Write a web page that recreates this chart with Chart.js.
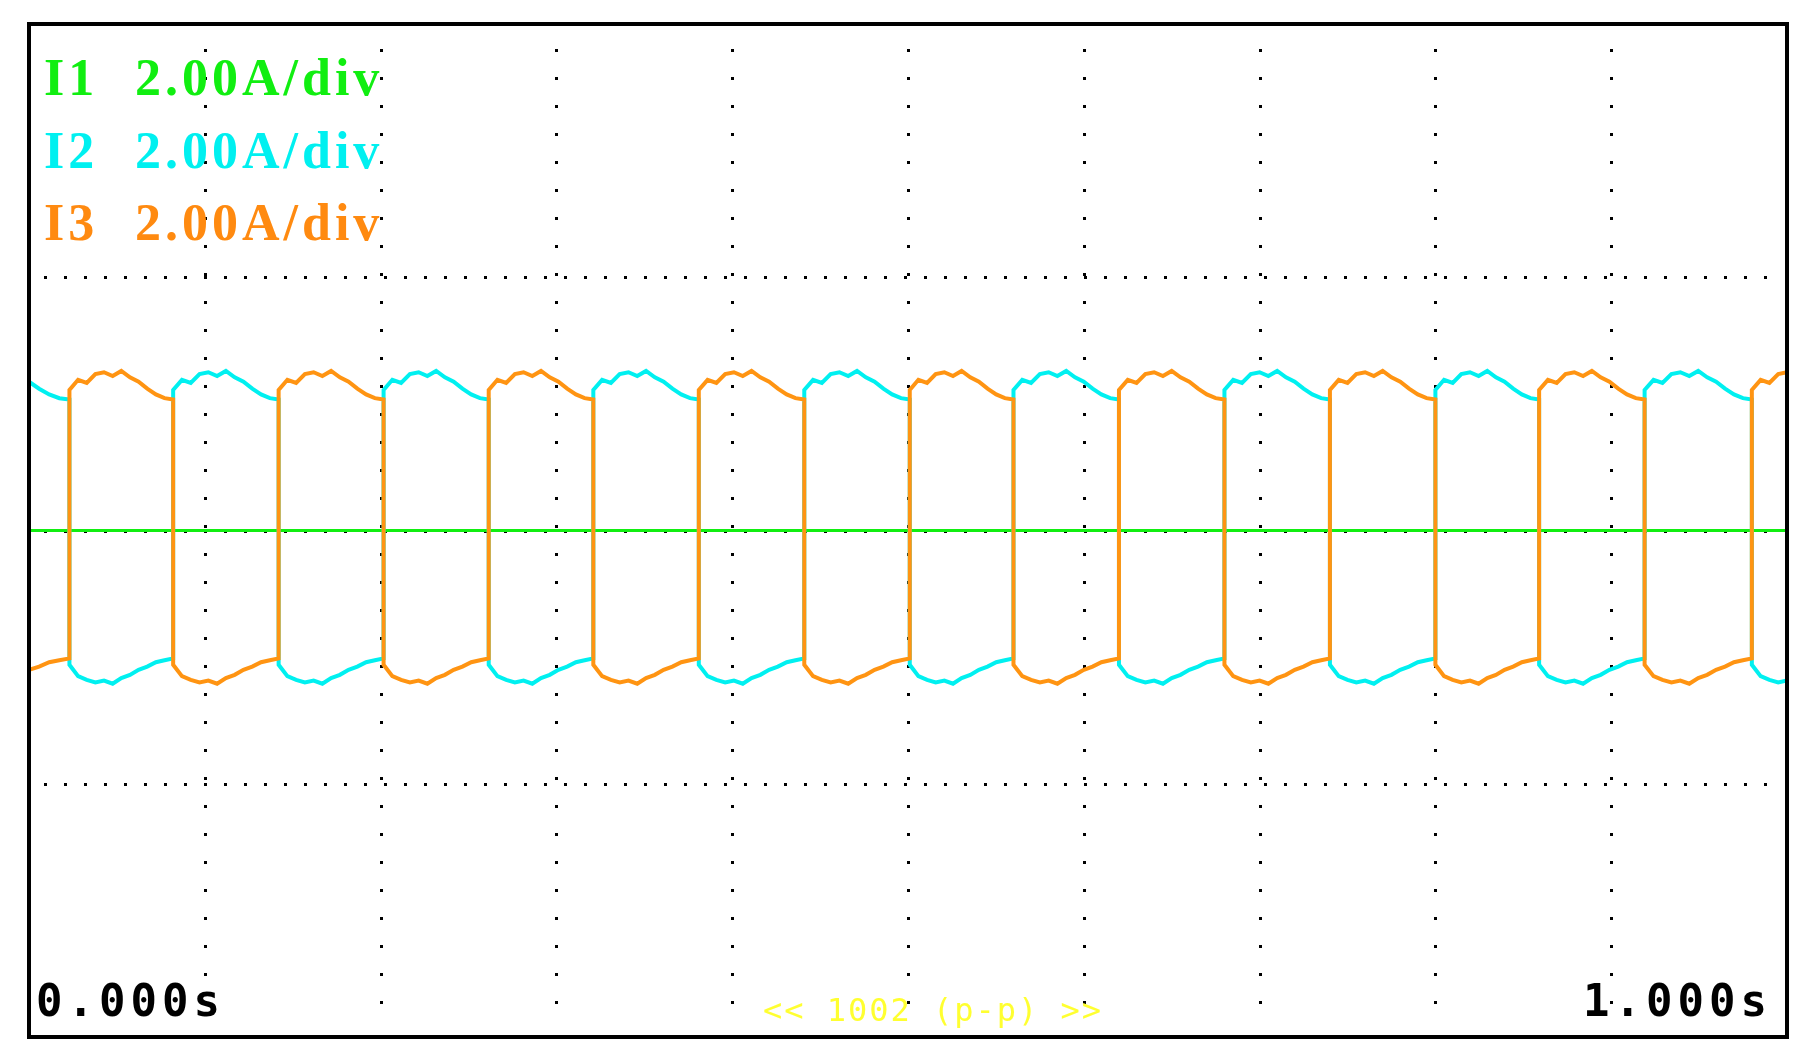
<!DOCTYPE html>
<html>
<head>
<meta charset="utf-8">
<script src="https://cdn.jsdelivr.net/npm/chart.js@4.4.0/dist/chart.umd.min.js"></script>
<style>
  html, body { margin: 0; padding: 0; background: #fff; }
  #wrap { width: 1809px; height: 1062px; position: relative; }
</style>
</head>
<body>
<div id="wrap"><canvas id="scope"></canvas></div>
<script>
// Scope capture: three phase currents, 2.00 A/div, 0..1 s

// switching instants (s)
const switchTimes = [0, 0.023, 0.082, 0.142, 0.2017, 0.2615, 0.321, 0.381, 0.441, 0.501,
                     0.560, 0.620, 0.680, 0.740, 0.800, 0.859, 0.919, 0.980, 1.0];
// which trace sits on the positive level per segment: 'c' = I2, 'o' = I3
const topTrace = ['c','o','c','o','c','o','c','o','c','o','c','o','c','o','c','o','c','o'];
// ripple of the positive level across one segment (A)
const topRipple = [2.22, 2.38, 2.33, 2.47, 2.50, 2.44, 2.52, 2.42, 2.35, 2.24, 2.15, 2.09, 2.07];
// ripple of the negative level across one segment (A)
const botRipple = [-2.12, -2.30, -2.36, -2.40, -2.37, -2.42, -2.33, -2.28, -2.20, -2.15, -2.08, -2.05, -2.02];
// I1 stays at zero
const i1Values = [[0, 0], [1, 0]];

const xTicks = [0, 0.1, 0.2, 0.3, 0.4, 0.5, 0.6, 0.7, 0.8, 0.9, 1.0];
const yTicks = [-8, -4, 0, 4, 8];

function buildTrace(name){
  const pts = [];
  for(let s = 0; s < topTrace.length; s++){
    const t0 = switchTimes[s], t1 = switchTimes[s + 1];
    const prof = topTrace[s] === name ? topRipple : botRipple;
    // first and last segments are clipped, show only the matching part of the ripple
    let from = 0, to = prof.length - 1;
    if(s === 0) from = 8;
    if(s === topTrace.length - 1) to = 4;
    const n = to - from;
    for(let k = from; k <= to; k++){
      pts.push({x: t0 + (t1 - t0) * (k - from) / n, y: prof[k]});
    }
  }
  return pts;
}

const gridPlugin = {
  id: 'scopeGrid',
  beforeDatasetsDraw(chart){
    const {ctx, chartArea: a, scales: {x, y}} = chart;
    ctx.save();
    ctx.fillStyle = '#000';
    // vertical dotted divisions
    xTicks.slice(1, -1).forEach(v => {
      const px = Math.round(x.getPixelForValue(v));
      for(let py = a.top + 25; py < a.bottom - 10; py += 28) ctx.fillRect(px - 1, py, 3, 3);
    });
    // horizontal dotted lines
    yTicks.slice(1, -1).forEach(v => {
      const py = Math.round(y.getPixelForValue(v));
      for(let px = a.left + 15; px < a.right - 10; px += 20) ctx.fillRect(px, py - 1, 3, 3);
    });
    ctx.restore();
  },
  afterDraw(chart){
    const {ctx, chartArea: a} = chart;
    ctx.save();
    ctx.strokeStyle = '#000';
    ctx.lineWidth = 4;
    ctx.strokeRect(a.left, a.top, a.right - a.left, a.bottom - a.top);

    ctx.textBaseline = 'alphabetic';
    ctx.font = 'bold 52px "Liberation Serif", "DejaVu Serif", serif';
    ctx.letterSpacing = '4px';
    const labels = [['I1', '#11ee11', 95], ['I2', '#00f0f0', 168], ['I3', '#ff8a10', 240]];
    labels.forEach(([n, c, by]) => {
      ctx.fillStyle = c;
      ctx.fillText(n, 44, by);
      ctx.fillText('2.00A/div', 135, by);
    });

    ctx.fillStyle = '#000';
    ctx.font = 'bold 44px "DejaVu Sans Mono", monospace';
    ctx.letterSpacing = '5px';
    ctx.textAlign = 'left';
    ctx.fillText('0.000s', 36, 1016);
    ctx.textAlign = 'right';
    ctx.fillText('1.000s', 1772, 1016);

    ctx.fillStyle = '#ffff30';
    ctx.font = '32px "DejaVu Sans Mono", monospace';
    ctx.letterSpacing = '2px';
    ctx.textAlign = 'center';
    ctx.fillText('<< 1002 (p-p) >>', 933, 1021);
    ctx.restore();
  }
};

new Chart(document.getElementById('scope'), {
  type: 'line',
  data: {
    datasets: [
      {label: 'I1', data: i1Values, borderColor: '#11ee11', borderWidth: 3, pointRadius: 0, order: 3},
      {label: 'I2', data: buildTrace('c'), borderColor: '#00f0f0', borderWidth: 4, pointRadius: 0, tension: 0, order: 2},
      {label: 'I3', data: buildTrace('o'), borderColor: '#ff9412', borderWidth: 4, pointRadius: 0, tension: 0, order: 1}
    ]
  },
  options: {
    responsive: true,
    maintainAspectRatio: false,
    animation: false,
    layout: {padding: {left: 29, right: 22, top: 24, bottom: 25}},
    plugins: {legend: {display: false}, tooltip: {enabled: false}},
    scales: {
      x: {type: 'linear', min: 0, max: 1, display: false},
      y: {type: 'linear', min: -8, max: 8, display: false}
    }
  },
  plugins: [gridPlugin]
});
</script>
</body>
</html>
